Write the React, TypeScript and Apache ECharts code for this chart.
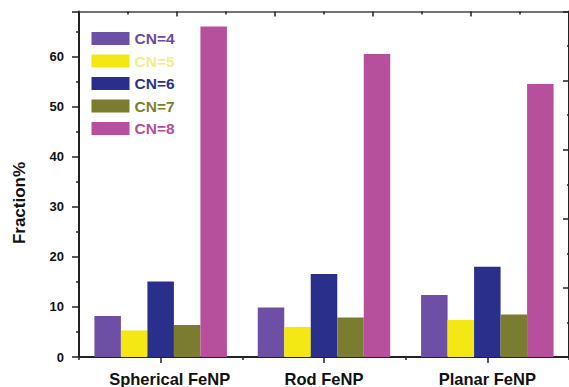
import React, { useEffect, useRef } from "react";
import * as echarts from "echarts";

const categories = ["Spherical FeNP", "Rod FeNP", "Planar FeNP"];
const seriesNames = ["CN=4", "CN=5", "CN=6", "CN=7", "CN=8"];
const cn4 = [8.2, 9.9, 12.4];
const cn5 = [5.3, 6.0, 7.4];
const cn6 = [15.1, 16.6, 18.0];
const cn7 = [6.4, 7.9, 8.5];
const cn8 = [66.0, 60.5, 54.5];
const seriesData = [cn4, cn5, cn6, cn7, cn8];
const colors = ["#6E4FA6", "#F4E814", "#2B2F8C", "#7A7C2F", "#B7509C"];
const legendTextColors = ["#6A4BA3", "#F2EE8C", "#2B3190", "#7B7F30", "#B44E9B"];

const FONT = "'Liberation Sans', Arial, sans-serif";

export default function App() {
  const ref = useRef<HTMLDivElement>(null);
  useEffect(() => {
    if (!ref.current) return;
    const chart = echarts.init(ref.current, null, { renderer: "svg" });
    const axisColor = "#222";
    chart.setOption({
      animation: false,
      backgroundColor: "#fff",
      textStyle: { fontFamily: FONT },
      grid: { left: 79, right: -2, top: 11.5, bottom: 27, containLabel: false },
      legend: {
        orient: "vertical",
        left: 91.5,
        top: 30.5,
        padding: 0,
        itemWidth: 38,
        itemHeight: 13,
        itemGap: 6.5,
        icon: "rect",
        selectedMode: false,
        data: seriesNames.map((n, i) => ({
          name: n,
          textStyle: { color: legendTextColors[i], fontWeight: "bold", fontSize: 15.5, fontFamily: FONT },
        })),
      },
      xAxis: [
        {
          type: "category",
          data: categories.map((c, i) =>
            i === 0 ? { value: c, textStyle: { padding: [0, 0, 0, 18] } } : c
          ),
          position: "bottom",
          axisLine: { show: true, lineStyle: { color: axisColor, width: 2 } },
          axisTick: { show: true, alignWithLabel: true, length: 6, lineStyle: { color: axisColor, width: 1.5 } },
          axisLabel: { color: "#111", fontWeight: "bold", fontSize: 16.5, margin: 13, fontFamily: FONT },
          splitLine: { show: false },
        },
        {
          type: "category",
          data: categories,
          position: "bottom",
          axisLine: { show: false },
          axisTick: { show: true, alignWithLabel: false, length: 3, lineStyle: { color: axisColor, width: 1.5 } },
          axisLabel: { show: false },
          splitLine: { show: false },
        },
        {
          type: "value",
          position: "top",
          min: 0,
          max: 5,
          interval: 1,
          axisLine: { show: true, lineStyle: { color: "#444", width: 1.5 } },
          axisTick: { show: true, inside: true, length: 5, lineStyle: { color: axisColor, width: 1.5 } },
          minorTick: { show: true, splitNumber: 2, length: 3, lineStyle: { color: axisColor, width: 1.5 } },
          axisLabel: { show: false },
          splitLine: { show: false },
        },
      ],
      yAxis: [
        {
          type: "value",
          min: 0,
          max: 69,
          interval: 10,
          position: "left",
          axisLine: { show: true, lineStyle: { color: axisColor, width: 2 } },
          axisTick: { show: true, inside: false, length: 7, lineStyle: { color: axisColor, width: 1.5 } },
          minorTick: { show: true, splitNumber: 2, length: 3, lineStyle: { color: axisColor, width: 1.5 } },
          axisLabel: {
            color: "#111",
            fontWeight: "bold",
            fontSize: 13,
            margin: 15,
            fontFamily: FONT,
            showMaxLabel: false,
          },
          splitLine: { show: false },
        },
        {
          type: "value",
          min: 0,
          max: 5,
          interval: 1,
          position: "right",
          axisLine: { show: true, lineStyle: { color: axisColor, width: 2 } },
          axisTick: { show: true, inside: true, length: 6, lineStyle: { color: axisColor, width: 1.5 } },
          minorTick: { show: true, splitNumber: 2, length: 2, lineStyle: { color: axisColor, width: 1.5 } },
          axisLabel: { show: false },
          splitLine: { show: false },
        },
      ],
      graphic: [
        {
          type: "text",
          x: 19,
          y: 203,
          rotation: Math.PI / 2,
          style: {
            text: "Fraction%",
            fontSize: 17,
            fontWeight: "bold",
            fontFamily: FONT,
            fill: "#111",
            align: "center",
            verticalAlign: "middle",
          },
        },
      ],
      series: seriesNames.map((n, i) => ({
        name: n,
        type: "bar",
        xAxisIndex: 0,
        yAxisIndex: 0,
        data: seriesData[i],
        barWidth: 26.5,
        barGap: "0%",
        itemStyle: { color: colors[i] },
      })),
    });
    return () => chart.dispose();
  }, []);
  return <div ref={ref} style={{ width: 569, height: 387, position: "absolute", left: 0, top: 0 }} />;
}
